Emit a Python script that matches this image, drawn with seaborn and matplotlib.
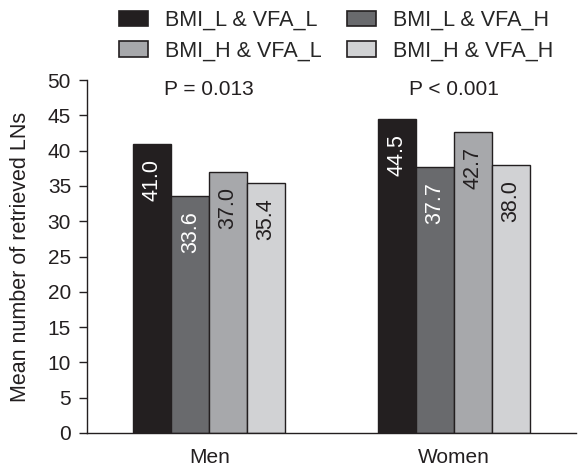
import matplotlib
matplotlib.use("Agg")
import matplotlib.pyplot as plt
import seaborn as sns
import pandas as pd
from matplotlib.patches import Patch

sns.set_style("white")
plt.rcParams['font.family'] = ['Liberation Sans', 'DejaVu Sans']

categories = ["Men", "Women"]
groups = ["BMI_L & VFA_L", "BMI_L & VFA_H", "BMI_H & VFA_L", "BMI_H & VFA_H"]
values = {
    "BMI_L & VFA_L": [41.0, 44.5],
    "BMI_L & VFA_H": [33.6, 37.7],
    "BMI_H & VFA_L": [37.0, 42.7],
    "BMI_H & VFA_H": [35.4, 38.0],
}
p_labels = ["P = 0.013", "P < 0.001"]
colors = ["#231f20", "#696a6d", "#a7a8ab", "#d1d2d4"]
label_colors = ["white", "white", "#231f20", "#231f20"]

FS = 15
LFS = 15.5

rows = []
for g in groups:
    for c, v in zip(categories, values[g]):
        rows.append({"cat": c, "grp": g, "val": v})
df = pd.DataFrame(rows)

fig = plt.figure(figsize=(5.79, 4.67), dpi=100)
ax = fig.add_axes([87/579, 1-433/467, (576-87)/579, (433-80)/467])

sns.barplot(data=df, x="cat", y="val", hue="grp", hue_order=groups, order=categories,
            palette=colors, edgecolor="#231f20", linewidth=1.0, width=0.62,
            errorbar=None, ax=ax, legend=False, saturation=1)

for i, cont in enumerate(ax.containers):
    for bar, v in zip(cont, values[groups[i]]):
        x = bar.get_x() + bar.get_width() / 2
        ax.text(x, v - 2.2, f"{v:.1f}", rotation=90, ha="center", va="top",
                color=label_colors[i], fontsize=15.5)

for j, p in enumerate(p_labels):
    ax.text(j, 48.65, p, ha="center", va="center", fontsize=FS, color="#231f20")

ax.set_xlim(-0.5, 1.5)
ax.set_ylim(0, 50)
ax.set_yticks(range(0, 51, 5))
ax.set_xticks([0, 1])
ax.set_xticklabels(categories, fontsize=FS, color="#231f20")
ax.set_xticks([0.5], minor=True)
ax.tick_params(axis="x", which="major", length=0, pad=11)
ax.tick_params(axis="x", which="minor", length=6, width=1, color="#231f20", direction="out")
ax.tick_params(axis="y", length=6, width=1, color="#231f20", direction="out", labelsize=FS,
               labelcolor="#231f20", left=True, pad=5.5)
ax.set_xlabel("")
ax.set_ylabel("Mean number of retrieved LNs", fontsize=15.5, color="#231f20", labelpad=12)
for s in ["top", "right"]:
    ax.spines[s].set_visible(False)
for s in ["left", "bottom"]:
    ax.spines[s].set_color("#231f20")
    ax.spines[s].set_linewidth(1.0)

handles = [Patch(facecolor=colors[k], edgecolor="#231f20", linewidth=1.2) for k in [0, 2, 1, 3]]
labels = [groups[k] for k in [0, 2, 1, 3]]
fig.legend(handles, labels, ncol=2, loc="upper left", bbox_to_anchor=(119/579, 1 - 10/467),
           frameon=False, fontsize=LFS, handlelength=1.35, handleheight=0.75,
           columnspacing=1.15, labelspacing=0.45, handletextpad=0.8,
           borderpad=0, borderaxespad=0)

fig.savefig("out.png", dpi=100)
